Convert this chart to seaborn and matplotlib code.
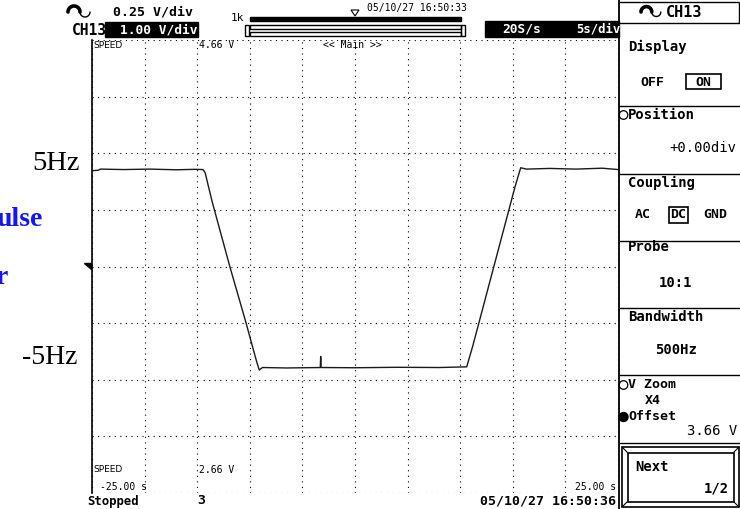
import numpy as np
import pandas as pd
import matplotlib
matplotlib.use("Agg")
import matplotlib.pyplot as plt
import seaborn as sns
from matplotlib.patches import Rectangle, Circle, Polygon

time_s = [-25.0, -24.4, -24.2, -22.0, -19.5, -17.0, -15.2, -14.45, -14.25,
          -13.6, -11.9, -10.4, -9.35, -9.1, -8.8, -6.5, -3.30, -3.26, -3.22,
          0.0, 4.0, 8.0, 10.62, 11.2, 13.2, 15.2, 15.75, 16.3, 18.5, 21.0, 23.5, 25.0]
speed_v = [4.083, 4.085, 4.090, 4.088, 4.090, 4.087, 4.089, 4.088, 4.075,
           3.950, 3.660, 3.418, 3.240, 3.203, 3.214, 3.212, 3.214, 3.263, 3.214,
           3.213, 3.215, 3.214, 3.217, 3.310, 3.660, 4.010, 4.096, 4.090, 4.093, 4.090, 4.094, 4.088]

x_range_s = [-25.0, 25.0]
y_range_v = [2.66, 4.66]
s_per_div = 5.0
v_per_div = 0.25
level_labels = ["5Hz", "-5Hz"]
side_labels = ["ulse", "r"]
menu_titles = ["Display", "Position", "Coupling", "Probe", "Bandwidth"]
menu_values = ["+0.00div", "10:1", "500Hz"]
header_texts = ["0.25 V/div", "1.00 V/div", "20S/s", "5s/div"]

# ---------------- figure ----------------
sns.set_theme(style="white")
plt.rcParams['font.family'] = ['DejaVu Sans']
W, H = 740, 509
fig = plt.figure(figsize=(7.4, 5.09), dpi=100)
fig.patch.set_facecolor('white')

PL, PR, PT, PB = 92, 618, 40, 493
ax = fig.add_axes([PL / W, 1 - PB / H, (PR - PL) / W, (PB - PT) / H])
df = pd.DataFrame({'t': time_s, 'v': speed_v})
sns.lineplot(data=df, x='t', y='v', ax=ax, color='#1a1a1a', linewidth=1.0,
             estimator=None, sort=False, zorder=3)
ax.set_xlim(*x_range_s)
ax.set_ylim(*y_range_v)
ax.set_xticks(np.arange(x_range_s[0], x_range_s[1] + 0.01, s_per_div))
ax.set_yticks(np.arange(y_range_v[0], y_range_v[1] + 0.001, v_per_div))
ax.grid(True, color='black', linestyle=(0, (1, 4)), linewidth=0.8)
ax.tick_params(length=0, labelbottom=False, labelleft=False)
ax.set_xlabel('')
ax.set_ylabel('')
for s in ax.spines.values():
    s.set_visible(False)
ax.spines['left'].set_visible(True)
ax.spines['left'].set_color('black')
ax.spines['left'].set_linewidth(1.2)
ax.set_facecolor('white')

# ---------------- overlay in pixel coordinates ----------------
ov = fig.add_axes([0, 0, 1, 1], zorder=5)
ov.set_xlim(0, W)
ov.set_ylim(H, 0)
ov.axis('off')
ov.patch.set_alpha(0)

MONO = 'DejaVu Sans Mono'
SERIF = 'Liberation Serif'


def txt(x, y, s, size=9, weight='normal', ha='left', va='center', color='black', family=MONO):
    ov.text(x, y, s, fontsize=size, fontweight=weight, ha=ha, va=va, color=color, family=family)


def line(xs, ys, lw=1.0, color='black'):
    ov.plot(xs, ys, color=color, lw=lw, solid_capstyle='butt')


def wave_icon(x0, yc, scale=1.0):
    t = np.linspace(np.pi, 0, 30)
    r1 = 6 * scale
    ov.plot(x0 + r1 + r1 * np.cos(t), yc - r1 * np.sin(t), color='black', lw=2.6)
    r2 = 5 * scale
    xs = x0 + 2 * r1 + r2 + r2 * np.cos(t)
    ov.plot(xs, yc + r2 * np.sin(t), color='black', lw=1.0)


# header
wave_icon(68, 12)
txt(113, 12, header_texts[0], size=9.5, weight='bold')
txt(72, 30, "CH13", size=10.5, weight='bold')
ov.add_patch(Rectangle((105, 22), 93, 15, color='black'))
txt(120, 30, header_texts[1], size=9.3, weight='bold', color='white')
txt(231, 18, "1k", size=8)
ov.add_patch(Rectangle((250, 16.5), 211, 4, color='black'))
ov.add_patch(Polygon([(351, 10), (359, 10), (355, 16)], closed=True, fill=False, ec='black', lw=0.8))
txt(367, 8, "05/10/27 16:50:33", size=7)
ov.add_patch(Rectangle((250, 25), 211, 4, fill=False, ec='black', lw=1.0))
ov.add_patch(Rectangle((250, 31.5), 211, 4, fill=False, ec='black', lw=1.0))
ov.add_patch(Rectangle((245, 25), 4, 11, fill=False, ec='black', lw=1.0))
ov.add_patch(Rectangle((461, 25), 4, 11, fill=False, ec='black', lw=1.0))
ov.add_patch(Rectangle((485, 21), 134, 16, color='black'))
txt(502, 29, header_texts[2], size=9.3, weight='bold', color='white')
txt(576, 29, header_texts[3], size=8.8, weight='bold', color='white')

# labels inside plot
txt(93, 45, "SPEED", size=6.5, family='DejaVu Sans')
txt(199, 45, "4.66 V", size=7)
txt(352, 45, "<< Main >>", size=7, ha='center')
txt(93, 470, "SPEED", size=6.5, family='DejaVu Sans')
txt(199, 470, "2.66 V", size=7)
txt(100, 487, "-25.00 s", size=7)
txt(616, 487, "25.00 s", size=7, ha='right')

# status row
txt(87, 501, "Stopped", size=8.8, weight='bold')
txt(197, 501, "3", size=9.5, weight='bold')
txt(616, 501, "05/10/27 16:50:36", size=9.5, weight='bold', ha='right')

# left annotations (partly cut off at the left edge, as in the capture)
txt(80, 164, level_labels[0], size=20.5, family=SERIF, ha='right')
txt(77, 357, level_labels[1], size=20, family=SERIF, ha='right')
txt(43, 220, side_labels[0], size=20, weight='bold', color='#1414ff', family=SERIF, ha='right')
txt(8, 277, side_labels[1], size=20, weight='bold', color='#1414ff', family=SERIF, ha='right')
ov.add_patch(Polygon([(84, 263), (91, 263), (91, 269)], closed=True, color='black'))

# right panel
line([618.5, 618.5], [0, H], lw=1.3)
line([619, 739], [2, 2], lw=1.0)
line([739, 739], [2, 23], lw=1.0)
line([619, 740], [23, 23], lw=1.0)
wave_icon(641, 12, scale=0.9)
txt(666, 12, "CH13", size=11, weight='bold')
for yy in [106, 174, 241, 308, 375, 443]:
    line([619, 740], [yy, yy], lw=1.0)

txt(628, 47, menu_titles[0], size=10, weight='bold')
txt(640, 82, "OFF", size=9.5, weight='bold')
ov.add_patch(Rectangle((686, 74), 35, 15, fill=False, ec='black', lw=1.2))
txt(703.5, 82, "ON", size=9.5, weight='bold', ha='center')

ov.add_patch(Circle((623.5, 115), 4.3, fill=False, ec='black', lw=0.9))
txt(628, 115, menu_titles[1], size=10, weight='bold')
txt(736, 148, menu_values[0], size=10, ha='right')

txt(628, 183, menu_titles[2], size=10, weight='bold')
txt(635, 215, "AC", size=9.5, weight='bold')
ov.add_patch(Rectangle((669, 207), 19, 16, fill=False, ec='black', lw=1.2))
txt(678.5, 215, "DC", size=9.5, weight='bold', ha='center')
txt(703, 215, "GND", size=9.5, weight='bold')

txt(628, 247, menu_titles[3], size=10, weight='bold')
txt(675, 283, menu_values[1], size=10, weight='bold', ha='center')

txt(628, 317, menu_titles[4], size=10, weight='bold')
txt(676, 350, menu_values[2], size=10, weight='bold', ha='center')

ov.add_patch(Circle((623.5, 385), 4.3, fill=False, ec='black', lw=0.9))
txt(628, 384, "V Zoom", size=9.5, weight='bold')
txt(653, 400, "X4", size=9.5, weight='bold', ha='center')
ov.add_patch(Circle((623.5, 417), 4.5, color='black'))
txt(628, 416, "Offset", size=9.5, weight='bold')
txt(737, 431, "3.66 V", size=10, ha='right')

# Next button (bevelled)
ov.add_patch(Rectangle((622, 447), 117, 60, fill=False, ec='black', lw=1.2))
ov.add_patch(Rectangle((627.5, 452.5), 106, 49, fill=False, ec='black', lw=1.2))
line([622, 627.5], [447, 452.5], lw=0.8)
line([739, 733.5], [447, 452.5], lw=0.8)
line([622, 627.5], [507, 501.5], lw=0.8)
line([739, 733.5], [507, 501.5], lw=0.8)
txt(635, 467, "Next", size=10, weight='bold')
txt(729, 488, "1/2", size=10, weight='bold', ha='right')

fig.savefig("out.png", dpi=100, facecolor='white')
